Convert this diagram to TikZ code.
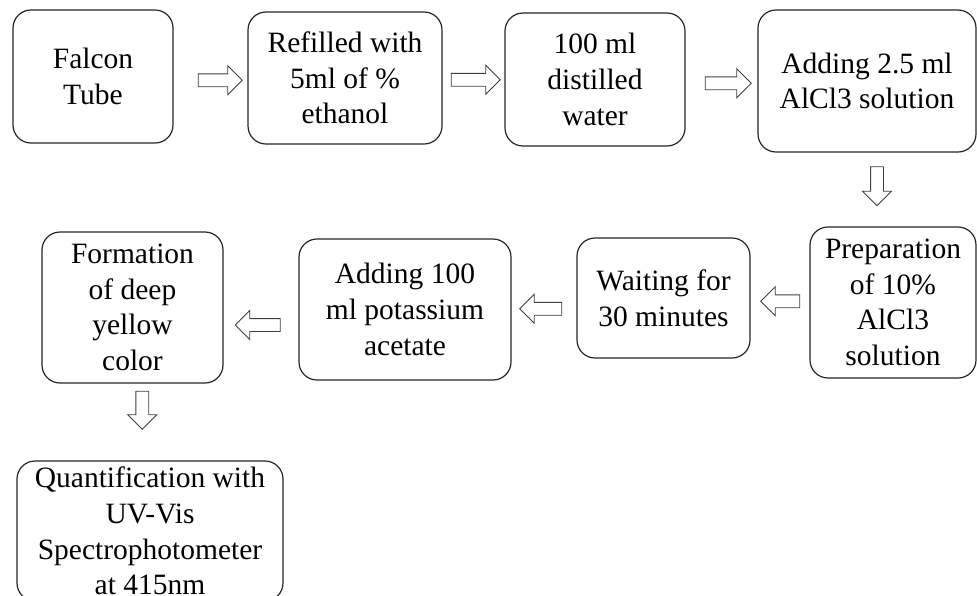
\documentclass[tikz,border=0pt]{standalone}
\usepackage{fontspec}
\setmainfont{Liberation Serif}
\usepackage{tikz}
\usetikzlibrary{shapes.arrows}
\tikzstyle{stepbox}=[draw=black!85, line width=1.2pt, rounded corners=18pt,% boxes of the procedure
align=center, inner sep=2pt, font=\fontsize{29.5}{35.7}\selectfont]
\tikzstyle{blk}=[single arrow, draw=black!75, line width=0.9pt, fill=white,% hollow block arrows
minimum height=44pt, single arrow head extend=8pt, inner sep=6pt]

\begin{document}
\begin{tikzpicture}[x=1pt,y=-1pt]
\useasboundingbox (0,0) rectangle (977,595);
% first row
\node[stepbox, minimum width=160pt, minimum height=133pt] (tube) at (93,76.5) {Falcon\\Tube};
\node[stepbox, minimum width=194pt, minimum height=132pt] (refill) at (345,78) {Refilled with\\5ml of \%\\ethanol};
\node[stepbox, minimum width=180pt, minimum height=133pt] (water) at (595,79.5) {100 ml\\distilled\\water};
\node[stepbox, minimum width=218pt, minimum height=142pt] (alcl) at (867,81) {Adding 2.5 ml\\AlCl3 solution};
% second row
\node[stepbox, minimum width=166pt, minimum height=151pt] (prep) at (893,302.5) {Preparation\\of 10\%\\AlCl3\\solution};
\node[stepbox, minimum width=173pt, minimum height=120pt] (wait) at (663.5,298) {Waiting for\\30 minutes};
\node[stepbox, minimum width=212pt, minimum height=141pt] (acet) at (405,309.5) {Adding 100\\ml potassium\\acetate};
\node[stepbox, minimum width=181pt, minimum height=151pt] (yellow) at (132.5,307.5) {Formation\\of deep\\yellow\\color};
% last one
\node[stepbox, minimum width=266pt, minimum height=140pt] (quant) at (150,531) {Quantification with\\UV-Vis\\Spectrophotometer\\at 415nm};

\path (tube.east) -- (refill.west) node[blk, midway, xshift=6.5pt, yshift=-3pt] {};
\path (refill.east) -- (water.west) node[blk, midway, minimum height=49pt, xshift=-1pt, yshift=-1pt] {};
\path (water.east) -- (alcl.west) node[blk, midway, minimum height=46pt, xshift=3.5pt, yshift=-3pt] {};
\path (alcl.south) -- (prep.north) node[blk, midway, rotate=-90, minimum height=39pt, xshift=-6.5pt, yshift=-3pt] {};
\path (prep.west) -- (wait.east) node[blk, midway, rotate=180, minimum height=39pt, xshift=-3.5pt, yshift=1pt] {};
\path (wait.west) -- (acet.east) node[blk, midway, rotate=180, minimum height=42pt, yshift=5pt] {};
\path (acet.west) -- (yellow.east) node[blk, midway, rotate=180, minimum height=45pt, yshift=16.5pt] {};
\path (yellow.south) -- (quant.north) node[blk, midway, rotate=-90, minimum height=38pt, xshift=-15pt, yshift=1pt] {};
\end{tikzpicture}
\end{document}
